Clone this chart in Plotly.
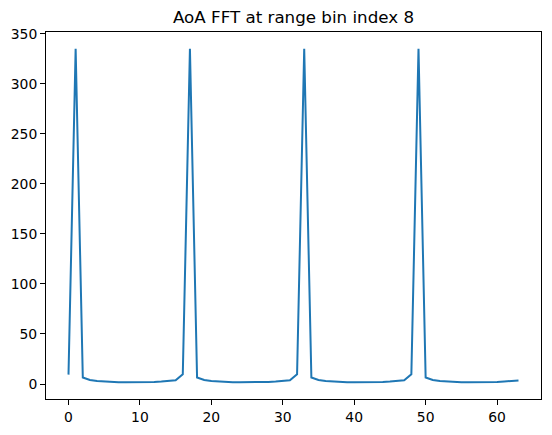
import plotly.graph_objects as go

bins = list(range(64))
magnitude = [
    9.4, 335.0, 6.5, 4.1, 3.0, 2.4, 2.0, 1.8, 1.7, 1.7, 1.8, 1.9, 2.1, 2.5, 3.0, 3.8,
    9.8, 335.0, 6.5, 4.1, 3.0, 2.4, 2.0, 1.8, 1.7, 1.7, 1.8, 1.9, 2.1, 2.5, 3.0, 3.8,
    9.8, 335.0, 6.5, 4.1, 3.0, 2.4, 2.0, 1.8, 1.7, 1.7, 1.8, 1.9, 2.1, 2.5, 3.0, 3.8,
    9.8, 335.0, 6.5, 4.1, 3.0, 2.4, 2.0, 1.8, 1.7, 1.7, 1.8, 1.9, 2.1, 2.5, 3.4, 3.6,
]
x_ticks = [0, 10, 20, 30, 40, 50, 60]
y_ticks = [0, 50, 100, 150, 200, 250, 300, 350]
title_text = "AoA FFT at range bin index 8"

fig = go.Figure()
fig.add_trace(go.Scatter(
    x=bins, y=magnitude, mode="lines",
    line=dict(color="#1f77b4", width=2),
    showlegend=False, hoverinfo="skip",
))

ymin, ymax = min(magnitude), max(magnitude)
ypad = (ymax - ymin) * 0.05
xpad = (max(bins) - min(bins)) * 0.05

axis_common = dict(
    showline=True, mirror=True, linecolor="black", linewidth=1,
    ticks="outside", ticklen=5, tickwidth=1, tickcolor="black",
    showgrid=False, zeroline=False,
    tickfont=dict(family="DejaVu Sans", size=13.9, color="black"),
)

fig.update_layout(
    width=552, height=435,
    margin=dict(l=46, r=10, t=32, b=34),
    plot_bgcolor="white", paper_bgcolor="white",
    xaxis=dict(range=[min(bins) - xpad, max(bins) + xpad],
               tickvals=x_ticks, ticktext=[str(v) for v in x_ticks], **axis_common),
    yaxis=dict(range=[ymin - ypad, ymax + ypad],
               tickvals=y_ticks, ticktext=[str(v) for v in y_ticks], **axis_common),
    annotations=[dict(
        text=title_text, xref="paper", yref="paper", x=0.5, y=1,
        xanchor="center", yanchor="bottom", yshift=3, showarrow=False,
        font=dict(family="DejaVu Sans", size=16.7, color="black"),
    )],
)

fig.write_html("out.html")
